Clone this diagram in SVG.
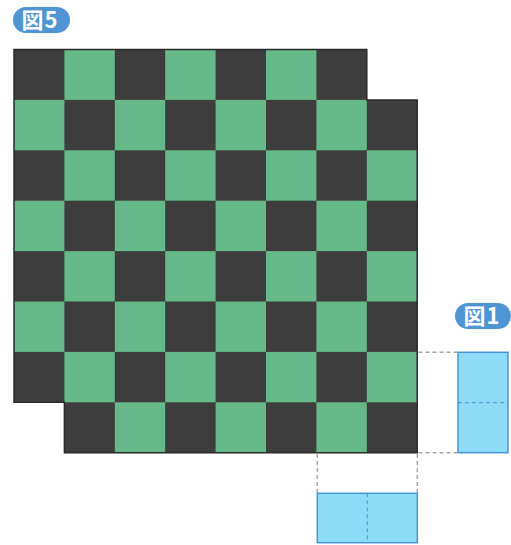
<svg xmlns="http://www.w3.org/2000/svg" width="511" height="545" viewBox="0 0 511 545">
<style>
.g{fill:#66b988}
.badge{fill:#4f95d3}
.bt{fill:#fff;font-family:"Noto Sans CJK JP","Noto Sans",sans-serif;font-weight:bold;font-size:22px}
.dom{fill:#8ddcf8;stroke:#4a94d6;stroke-width:1.5}
.mid{stroke:#4a94d6;stroke-width:1;stroke-dasharray:4 3;fill:none}
.guide{stroke:#a8a8a8;stroke-width:1.5;stroke-dasharray:4 3;fill:none}
</style>
<rect width="511" height="545" fill="#fff"/>
<g id="label5">
<rect class="badge" x="13" y="7" width="57" height="26" rx="13"/>
<text class="bt" x="40" y="28" text-anchor="middle" letter-spacing="1">図5</text>
</g>
<g id="board">
<polygon points="14,49.5 366.8,49.5 366.8,99.9 417.2,99.9 417.2,452.7 64.4,452.7 64.4,402.3 14,402.3" fill="#3d3d3d"/>
<rect class="g" x="64.4" y="49.5" width="50.4" height="50.4"/>
<rect class="g" x="165.2" y="49.5" width="50.4" height="50.4"/>
<rect class="g" x="266" y="49.5" width="50.4" height="50.4"/>
<rect class="g" x="14" y="99.9" width="50.4" height="50.4"/>
<rect class="g" x="114.8" y="99.9" width="50.4" height="50.4"/>
<rect class="g" x="215.6" y="99.9" width="50.4" height="50.4"/>
<rect class="g" x="316.4" y="99.9" width="50.4" height="50.4"/>
<rect class="g" x="64.4" y="150.3" width="50.4" height="50.4"/>
<rect class="g" x="165.2" y="150.3" width="50.4" height="50.4"/>
<rect class="g" x="266" y="150.3" width="50.4" height="50.4"/>
<rect class="g" x="366.8" y="150.3" width="50.4" height="50.4"/>
<rect class="g" x="14" y="200.7" width="50.4" height="50.4"/>
<rect class="g" x="114.8" y="200.7" width="50.4" height="50.4"/>
<rect class="g" x="215.6" y="200.7" width="50.4" height="50.4"/>
<rect class="g" x="316.4" y="200.7" width="50.4" height="50.4"/>
<rect class="g" x="64.4" y="251.1" width="50.4" height="50.4"/>
<rect class="g" x="165.2" y="251.1" width="50.4" height="50.4"/>
<rect class="g" x="266" y="251.1" width="50.4" height="50.4"/>
<rect class="g" x="366.8" y="251.1" width="50.4" height="50.4"/>
<rect class="g" x="14" y="301.5" width="50.4" height="50.4"/>
<rect class="g" x="114.8" y="301.5" width="50.4" height="50.4"/>
<rect class="g" x="215.6" y="301.5" width="50.4" height="50.4"/>
<rect class="g" x="316.4" y="301.5" width="50.4" height="50.4"/>
<rect class="g" x="64.4" y="351.9" width="50.4" height="50.4"/>
<rect class="g" x="165.2" y="351.9" width="50.4" height="50.4"/>
<rect class="g" x="266" y="351.9" width="50.4" height="50.4"/>
<rect class="g" x="366.8" y="351.9" width="50.4" height="50.4"/>
<rect class="g" x="114.8" y="402.3" width="50.4" height="50.4"/>
<rect class="g" x="215.6" y="402.3" width="50.4" height="50.4"/>
<rect class="g" x="316.4" y="402.3" width="50.4" height="50.4"/>
<polygon points="14,49.5 366.8,49.5 366.8,99.9 417.2,99.9 417.2,452.7 64.4,452.7 64.4,402.3 14,402.3" fill="none" stroke="#2a2a2a" stroke-width="1.5"/>
</g>
<g id="guides">
<line class="guide" x1="418.5" y1="352.3" x2="458" y2="352.3"/>
<line class="guide" x1="418.5" y1="452.7" x2="458" y2="452.7"/>
<line class="guide" x1="317.3" y1="454" x2="317.3" y2="493.3"/>
<line class="guide" x1="417.3" y1="454" x2="417.3" y2="493.3"/>
</g>
<g id="label1">
<rect class="badge" x="455" y="303" width="56" height="26" rx="13"/>
<text class="bt" x="482" y="324" text-anchor="middle" letter-spacing="1">図1</text>
</g>
<g id="domino-vertical">
<rect class="dom" x="458" y="352.3" width="50" height="100.4"/>
<line class="mid" x1="458" y1="402.7" x2="508" y2="402.7"/>
</g>
<g id="domino-horizontal">
<rect class="dom" x="317.3" y="493.3" width="100" height="49.4"/>
<line class="mid" x1="367.3" y1="493.3" x2="367.3" y2="542.7"/>
</g>
</svg>
